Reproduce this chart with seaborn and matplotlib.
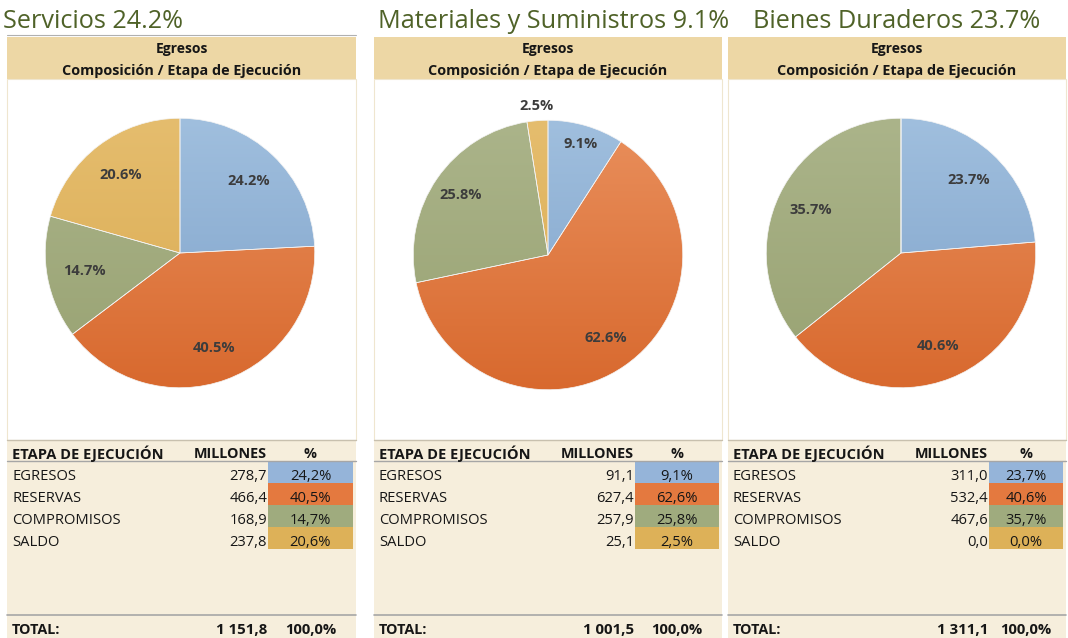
import matplotlib
matplotlib.use("Agg")
import matplotlib.pyplot as plt
import matplotlib.colors as mcolors
from matplotlib.patches import Rectangle
import numpy as np
import seaborn as sns

# ---------------- data ----------------
panel_titles = ["Servicios 24.2%", "Materiales y Suministros 9.1%", "Bienes Duraderos 23.7%"]
stages = ["EGRESOS", "RESERVAS", "COMPROMISOS", "SALDO"]
servicios_millones = [278.7, 466.4, 168.9, 237.8]
servicios_pct = [24.2, 40.5, 14.7, 20.6]
materiales_millones = [91.1, 627.4, 257.9, 25.1]
materiales_pct = [9.1, 62.6, 25.8, 2.5]
bienes_millones = [311.0, 532.4, 467.6, 0.0]
bienes_pct = [23.7, 40.6, 35.7, 0.0]
totals_millones = ["1 151,8", "1 001,5", "1 311,1"]
totals_pct = ["100,0%", "100,0%", "100,0%"]

millones = [servicios_millones, materiales_millones, bienes_millones]
pcts = [servicios_pct, materiales_pct, bienes_pct]

# ---------------- style ----------------
sns.set_theme(style="white")
plt.rcParams["font.family"] = ["Open Sans", "DejaVu Sans"]

W, H = 1068, 638
fig = plt.figure(figsize=(W / 100, H / 100), dpi=100)
fig.patch.set_facecolor("white")

wedge_top = ["#A0BFDE", "#E98F5C", "#ABB48A", "#E5BD6E"]
wedge_bot = ["#7DA1C9", "#D8692E", "#98A272", "#DAAA50"]
cell_colors = ["#95B4D9", "#E4793F", "#9FAB7E", "#DDB158"]
header_bg = "#EDD7A5"
table_bg = "#F6EEDC"
title_color = "#4F6228"
label_color = "#3C3C3C"

panel_x = [7, 374, 728]
panel_w = [349, 348, 338]
title_x = [3, 378, 753]
pie_center = [(180, 253), (548, 255), (901, 253)]
pie_r = 135
label_dist = [[0.74, 0.75, 0.72, 0.73], [0.86, 0.75, 0.79, 1.11], [0.74, 0.74, 0.74, 0.7]]


def fx(px):
    return px / W


def fy(py):
    return 1 - py / H


def rect(x, y, w, h, color, z=-5, **kw):
    fig.patches.append(Rectangle((fx(x), fy(y + h)), w / W, h / H, transform=fig.transFigure,
                                 facecolor=color, zorder=z, **kw))


def hline(x0, x1, y, color="#A6A6A6", lw=1.0):
    fig.add_artist(plt.Line2D([fx(x0), fx(x1)], [fy(y), fy(y)], transform=fig.transFigure,
                              color=color, lw=lw, zorder=-2))


TXT = "#161616"
for i in range(3):
    x0, w = panel_x[i], panel_w[i]
    x1 = x0 + w
    # title
    fig.text(fx(title_x[i]), fy(19), panel_titles[i], fontsize=18.2, color=title_color,
             va="center_baseline", ha="left")
    # header band
    rect(x0, 37, w, 42, header_bg, edgecolor="none")
    fig.text(fx(x0 + w / 2), fy(48), "Egresos", fontsize=10, fontweight="bold",
             ha="center", va="center_baseline", color=TXT)
    fig.text(fx(x0 + w / 2), fy(70), "Composición / Etapa de Ejecución", fontsize=10.4,
             fontweight="bold", ha="center", va="center_baseline", color=TXT)
    # plot area (white) with faint border
    rect(x0, 79, w, 361, "white", z=-4, edgecolor="#EFE6CF", lw=0.8)
    # table area
    rect(x0, 440, w, H - 440, table_bg, edgecolor="none")
    hline(x0, x1, 440, "#C8C0AE", 1.0)
    hline(x0, x1, 461, "#A6A6A6", 1.0)
    hline(x0, x1, 615, "#A6A6A6", 1.2)

    # pie
    cx, cy = pie_center[i]
    ax = fig.add_axes([fx(cx - pie_r), fy(cy + pie_r), 2 * pie_r / W, 2 * pie_r / H])
    ax.set_zorder(5)
    ax.patch.set_alpha(0)
    vals = pcts[i]
    wedges, _ = ax.pie(vals, startangle=90, counterclock=False, radius=1,
                       colors=cell_colors, wedgeprops=dict(edgecolor="#F4F4F4", linewidth=0.5))
    ax.axis("off")
    for k, wd in enumerate(wedges):
        if vals[k] <= 0:
            continue
        cmap = mcolors.LinearSegmentedColormap.from_list("g", [wedge_bot[k], wedge_top[k]])
        grad = np.linspace(0, 1, 256).reshape(-1, 1)
        im = ax.imshow(grad, extent=[-1, 1, -1, 1], origin="lower", cmap=cmap,
                       aspect="auto", zorder=2)
        im.set_clip_path(wd)
        ang = np.deg2rad((wd.theta1 + wd.theta2) / 2)
        d = label_dist[i][k]
        ax.text(d * np.cos(ang), d * np.sin(ang), f"{vals[k]:.1f}%", ha="center",
                va="center", fontsize=10.5, fontweight="bold", color=label_color, zorder=10)
    for wd in wedges:
        wd.set_facecolor("none")
        wd.set_zorder(6)
    ax.set_aspect("equal")
    ax.set_xlim(-1.002, 1.002)
    ax.set_ylim(-1.002, 1.002)

    # table text
    col_num_right = x0 + 260
    pct_left = x0 + 261
    pct_center = (pct_left + x1 - 3) / 2
    fig.text(fx(x0 + 5), fy(452), "ETAPA DE EJECUCIÓN", fontsize=10.5, fontweight="bold",
             ha="left", va="center_baseline", color=TXT)
    fig.text(fx(col_num_right - 37), fy(452), "MILLONES", fontsize=10.4, fontweight="bold",
             ha="center", va="center_baseline", color=TXT)
    fig.text(fx(pct_center), fy(452), "%", fontsize=10.4, fontweight="bold",
             ha="center", va="center_baseline", color=TXT)
    for k, st in enumerate(stages):
        ytop = 461 + 22 * k
        yc = ytop + 13
        rect(pct_left, ytop, x1 - 3 - pct_left, 22, cell_colors[k], z=-3, edgecolor="none")
        fig.text(fx(x0 + 5), fy(yc), st, fontsize=10.6, ha="left", va="center_baseline",
                 color=TXT)
        fig.text(fx(col_num_right), fy(yc), f"{millones[i][k]:.1f}".replace(".", ","),
                 fontsize=10.6, ha="right", va="center_baseline", color=TXT)
        fig.text(fx(pct_center), fy(yc), f"{pcts[i][k]:.1f}%".replace(".", ","),
                 fontsize=10.6, ha="center", va="center_baseline", color=TXT)
    fig.text(fx(x0 + 5), fy(629), "TOTAL:", fontsize=10.4, fontweight="bold",
             ha="left", va="center_baseline", color=TXT)
    fig.text(fx(col_num_right), fy(629), totals_millones[i], fontsize=10.8, fontweight="bold",
             ha="right", va="center_baseline", color=TXT)
    fig.text(fx(pct_center), fy(629), totals_pct[i], fontsize=10.6, fontweight="bold",
             ha="center", va="center_baseline", color=TXT)

# faint gridline above first panel
hline(7, 356, 35, "#B0B0B0", 0.8)

fig.savefig("out.png", dpi=100)
